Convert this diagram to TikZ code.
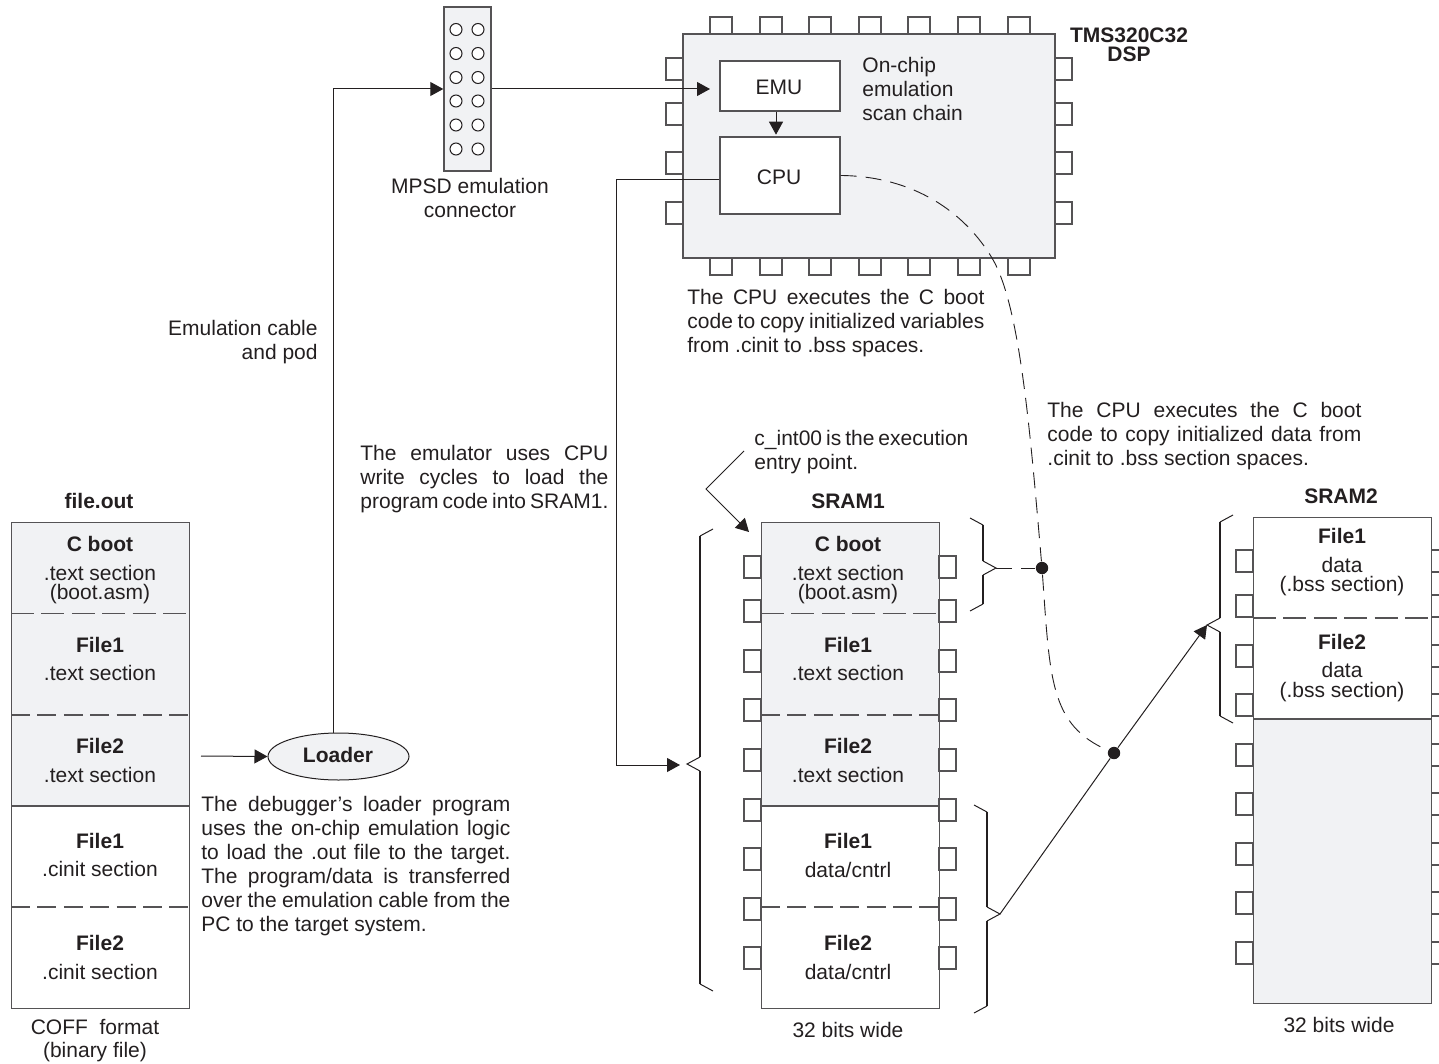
\documentclass[tikz,border=0pt]{standalone}
\usepackage{fontspec}
\setmainfont{Liberation Sans}
\usetikzlibrary{arrows.meta,shapes.geometric,calc}
\definecolor{inkDark}  {RGB}{35,  31,  32}
\definecolor{inkEdge}  {RGB}{85,  83,  85}
\definecolor{chipGrey} {RGB}{241, 242, 244}
% one justified line of a given width
\newcommand{\jline}[2]{\hbox to #1{\spaceskip=.278em plus 1fil minus .25em\relax #2}}
\tikzset{
  txt/.style={font=\fontsize{10.5}{12}\selectfont,text=inkDark,inner sep=0pt,anchor=base},
  txtb/.style={txt,font=\fontsize{10.5}{12}\selectfont\bfseries},
  blk/.style={draw=inkEdge,line width=.7pt,inner sep=0pt},
  pin/.style={draw=inkEdge,line width=.6pt,fill=white},
  wire/.style={draw=inkDark,line width=.5pt},
  arr/.style={wire,-{Triangle[length=6.5pt,width=7pt]}},
  sep/.style={draw=inkEdge,line width=.6pt},
  dline/.style={draw=inkDark,line width=.45pt,dash pattern=on 8pt off 4.5pt},
  junction/.style={circle,fill=inkDark,inner sep=0pt,minimum size=6.2pt},
}
\begin{document}
\begin{tikzpicture}[x=0.5pt,y=-0.5pt]
  \useasboundingbox (0,0) rectangle (1439,1064);
  % Chip
  \foreach \x in {710,760,809,859,908,958,1008}{
    \draw[pin] (\x,17) rectangle (\x+22,34);
    \draw[pin] (\x,258) rectangle (\x+22,275);
  }
  \foreach \y in {69,114,163,213}{
    \draw[pin] (666,\y-11) rectangle (683,\y+11);
    \draw[pin] (1055,\y-11) rectangle (1072,\y+11);
  }
  \node[blk,fill=chipGrey,minimum width=186pt,minimum height=112pt] (chip) at (869,146) {};
  \node[blk,fill=white,minimum width=60pt,minimum height=25pt] (emu) at (780,86) {};
  \node[blk,fill=white,minimum width=60pt,minimum height=38.5pt] (cpu) at (780,175.5) {};
  \node[txt] (emulab) at (779,95) {EMU};
  \node[txt] (cpulab) at (779,185) {CPU};
  \node[txtb] (dsp) at (1129,43) {TMS320C32};
  \node[txtb] (dsptwo) at (1129,62) {DSP};
  \node[txt,anchor=base west] (scan) at (862,73)
    {\vtop{\baselineskip=12pt\hbox{On-chip}\hbox{emulation}\hbox{scan chain}}};
  % Connector
  \node[blk,fill=chipGrey,minimum width=23.5pt,minimum height=82pt] (mpsd) at (467.5,89) {};
  \foreach \x in {456,478}
    \foreach \y in {29.5,53.5,77.5,101,125,149}
      \draw[draw=inkDark,line width=.5pt,fill=white] (\x,\y) circle (6);
  \node[txt] (mpsdlab) at (470,194) {MPSD emulation};
  \node[txt] (mpsdtwo) at (470,218) {connector};
  % Memories
  \foreach \x/\nm in {11/f,761/s}{
    \fill[chipGrey] (\x,522) rectangle (\x+178,806);
    \node[blk,anchor=north west,minimum width=89pt,minimum height=243pt] (box\nm) at (\x,522) {};
    \draw[sep] (\x,806) -- (\x+178,806);
    \draw[sep,dash pattern=on 11.5pt off 3.7pt] (\x,613.5) -- (\x+178,613.5);
    \draw[sep,dash pattern=on 9.5pt off 3.7pt] (\x,715) -- (\x+178,715);
    \draw[sep,dash pattern=on 9.5pt off 3.7pt] (\x,907) -- (\x+178,907);
  }
  \foreach \x/\nm in {100/f,848/s}
    \foreach \y/\sty/\lab in {551/txtb/C boot,580/txt/.text section,599/txt/(boot.asm),
      652/txtb/File1,680/txt/.text section,753/txtb/File2,782/txt/.text section}
      \node[\sty] (\nm\y) at (\x,\y) {\lab};
  \foreach \y/\sty/\lab in {848/txtb/File1,876/txt/.cinit section,950/txtb/File2,979/txt/.cinit section}
    \node[\sty] (f\y) at (100,\y) {\lab};
  \foreach \y/\sty/\lab in {848/txtb/File1,877/txt/data\slash cntrl,950/txtb/File2,979/txt/data\slash cntrl}
    \node[\sty] (s\y) at (848,\y) {\lab};
  \foreach \y in {567,611,661,710,760,810,859,909,958}{
    \draw[pin] (744,\y-11) rectangle (761,\y+11);
    \draw[pin] (939,\y-11) rectangle (956,\y+11);
  }
  % SRAM2
  \fill[chipGrey] (1253,719) rectangle (1431,1003);
  \node[blk,anchor=north west,minimum width=89pt,minimum height=243pt] (boxt) at (1253,517) {};
  \draw[sep] (1253,719) -- (1431,719);
  \draw[sep,dash pattern=on 11.5pt off 3.7pt] (1253,618) -- (1431,618);
  \foreach \y/\sty/\lab in {543/txtb/File1,572/txt/data,591/txt/(.bss section),
    649/txtb/File2,677/txt/data,697/txt/(.bss section)}
    \node[\sty] (t\y) at (1342,\y) {\lab};
  \foreach \y in {561,606,656,705,755,804,854,903,953}{
    \draw[pin] (1236,\y-11) rectangle (1253,\y+11);
    \draw[inkEdge,line width=.6pt] (1431,\y-11) -- (1439,\y-11) (1431,\y+11) -- (1439,\y+11);
  }
  % Titles
  \node[txtb] (fileout) at (99,508) {file.out};
  \node[txtb] (sramone) at (848,508) {SRAM1};
  \node[txtb] (sramtwo) at (1341,503) {SRAM2};
  \node[txt] (coff) at (95,1034) {COFF\ \ format};
  \node[txt] (coffb) at (95,1057) {(binary file)};
  \node[txt] (wides) at (848,1037) {32 bits wide};
  \node[txt] (widet) at (1339,1032) {32 bits wide};
  \node[txt,anchor=base east] (cable) at (318,335) {Emulation cable};
  \node[txt,anchor=base east] (pod) at (318,359) {and pod};
  % Notes
  \node[txt,anchor=base west] (noteemu) at (360,460) {\vtop{\baselineskip=12pt
    \jline{124pt}{The emulator uses CPU}
    \jline{124pt}{write cycles to load the}
    \jline{124pt}{program code into SRAM1.}}};
  \node[txt,anchor=base west] (noteload) at (201,811) {\vtop{\baselineskip=12pt
    \jline{154.5pt}{The debugger's loader program}
    \jline{154.5pt}{uses the on-chip emulation logic}
    \jline{154.5pt}{to load the .out file to the target.}
    \jline{154.5pt}{The program/data is transferred}
    \jline{154.5pt}{over the emulation cable from the}
    \hbox{PC to the target system.}}};
  \node[txt,anchor=base west] (notecpu) at (687,304) {\vtop{\baselineskip=12pt
    \jline{148.5pt}{The CPU executes the C boot}
    \jline{148.5pt}{code to copy initialized variables}
    \hbox{from .cinit to .bss spaces.}}};
  \node[txt,anchor=base west] (noteboot) at (1047,417) {\vtop{\baselineskip=12pt
    \jline{157pt}{The CPU executes the C boot}
    \jline{157pt}{code to copy initialized data from}
    \hbox{.cinit to .bss section spaces.}}};
  \node[txt,anchor=base west] (noteentry) at (754,445) {\vtop{\baselineskip=12pt
    \jline{107pt}{c\_int00 is the execution}
    \hbox{entry point.}}};
  % Braces
  \foreach \xv/\d/\ya/\ym/\yb/\nm in {700/1/529/764/991/l,983/-1/518/568/611/r,987/-1/805/914/1013/d,1220/1/515/625/723/u}{
    \draw[wire] ({\xv+\d*13},\ya) -- (\xv,\ya+7) (\xv,\ym-7) -- ({\xv-\d*13},\ym) -- (\xv,\ym+7) (\xv,\yb-7) -- ({\xv+\d*13},\yb);
    \draw[draw=inkDark,line width=1.1pt] (\xv,\ya+7) -- (\xv,\ym-7) (\xv,\ym+7) -- (\xv,\yb-7);
    \coordinate (tip\nm) at ({\xv-\d*13},\ym);
  }
  % Loader
  \node[blk,ellipse,draw=inkDark,line width=.5pt,fill=chipGrey,minimum width=70.5pt,minimum height=23.5pt] (loader) at (338.5,756.5) {};
  \node[txtb] (loaderlab) at (338,762) {Loader};
  % Connections
  \coordinate (loaderout) at (201,756);
  \coordinate (elbowa) at (333,89);
  \coordinate (elbowb) at (616,180);
  \coordinate (elbowc) at (616,765);
  \coordinate (entryfrom) at (744,451);
  \coordinate (entrybend) at (706,489);
  \coordinate (entryto) at (749,532);
  \coordinate (bendb) at (992,258);
  \node[junction] (dota) at (1042,568) {};
  \node[junction] (dotb) at (1114,753) {};
  \draw[arr] (loaderout) -- (loader.west);
  \draw[arr] (loader.north -| elbowa) -- (elbowa) -- (mpsd.west |- elbowa);
  \draw[arr] (mpsd.east) -- (710,89);
  \draw[arr,shorten >=.8pt] (emu.south -| 776,0) -- (cpu.north -| 776,0);
  \draw[arr] (cpu.west |- elbowb) -- (elbowb) -- (elbowc) -- (680,765);
  \draw[arr] (entryfrom) -- (entrybend) -- (entryto);
  \draw[wire] (tipd) -- (dotb);
  \draw[arr] (dotb) -- (tipu);
  \draw[dline] (tipr) -- (dota);
  \draw[dline] (cpu.east) .. controls (905,176) and (960,205) .. (bendb)
    .. controls (1020,305) and (1030,430) .. (dota)
    .. controls (1050,680) and (1050,725) .. (dotb);
\end{tikzpicture}
\end{document}
